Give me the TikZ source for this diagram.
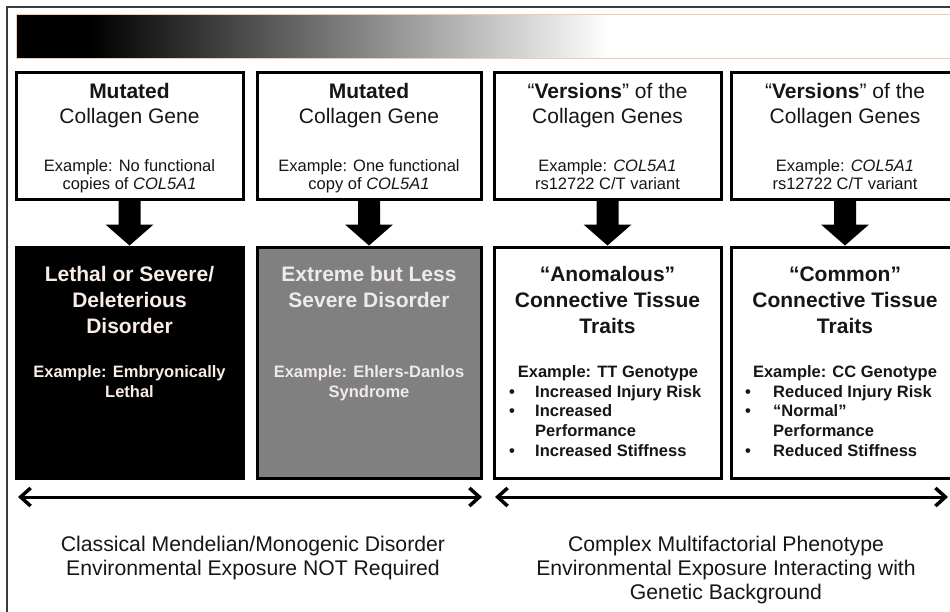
\documentclass[tikz,border=0pt]{standalone}
\usepackage{fontspec}
\setmainfont{Liberation Sans}
\usetikzlibrary{arrows.meta,calc}
\definecolor{framegray}{RGB}{60,60,60}
\definecolor{barline}{RGB}{240,200,180}
\definecolor{boxgray}{RGB}{128,128,128}
\definecolor{lighttext}{RGB}{250,236,230}
\definecolor{graytext}{RGB}{240,234,232}
\definecolor{inktext}{RGB}{22,22,22}
\newcommand\fTitle{\fontsize{21}{26}\selectfont}
\newcommand\fEx{\fontsize{16.5}{19}\selectfont}
\newcommand\fBot{\fontsize{21.2}{24}\selectfont}
\begin{document}
\begin{tikzpicture}[x=1pt,y=-1pt,
  topbox/.style={draw=black, line width=3pt, fill=white, minimum height=127pt, inner sep=0pt},
  botbox/.style={draw=black, line width=3pt, minimum height=231pt, inner sep=0pt},
  txt/.style={inner sep=0pt, anchor=base, text=inktext},
  ttl/.style={txt, font=\bfseries\fTitle},
  reg/.style={txt, font=\fTitle},
  ex/.style={txt, font=\fEx},
  bex/.style={txt, font=\bfseries\fEx},
  bul/.style={inner sep=0pt, anchor=base west, text=inktext, font=\bfseries\fEx},
  btxt/.style={inner sep=0pt, anchor=base, text=inktext, font=\fBot},
  blockarrow/.style={fill=black},
  dbl/.style={line width=3pt, {Straight Barb[length=10pt,width=18pt,line width=3.5pt]}-{Straight Barb[length=10pt,width=18pt,line width=3.5pt]}}
]
\useasboundingbox (0,0) rectangle (950,611);
\clip (0,0) rectangle (950,611);
\fill[white] (0,0) rectangle (950,611);
% frame
\draw[framegray, line width=1.6pt] (7,620) -- (7,7) -- (960,7);
% gradient bar
\fill[black] (16,14) rectangle (90,58);
\shade[left color=black, right color=white] (90,14) rectangle (610,58);
\fill[white] (610,14) rectangle (960,58);
\draw[barline, line width=0.8pt] (16,14) rectangle (960,58);

% top boxes
\node[topbox, minimum width=227pt] (t1) at (129.5,135.5) {};
\node[topbox, minimum width=224pt] (t2) at (369,135.5) {};
\node[topbox, minimum width=227pt] (t3) at (607.5,135.5) {};
\node[topbox, minimum width=228pt] (t4) at (845,135.5) {};
% bottom boxes
\node[botbox, fill=black, minimum width=227pt] (b1) at (129.5,362.5) {};
\node[botbox, fill=boxgray, minimum width=224pt] (b2) at (369,362.5) {};
\node[botbox, fill=white, minimum width=227pt] (b3) at (607.5,362.5) {};
\node[botbox, fill=white, minimum width=228pt] (b4) at (845,362.5) {};

% block arrows
\foreach \a/\b in {t1/b1,t2/b2,t3/b3,t4/b4}{
  \fill[blockarrow] ($(\a.south)+(-11,-2)$) -- ($(\b.north)+(-11,-21)$) -- ($(\b.north)+(-24,-21)$)
    -- (\b.north) -- ($(\b.north)+(24,-21)$) -- ($(\b.north)+(11,-21)$) -- ($(\a.south)+(11,-2)$) -- cycle;
}

% top box texts
\node[ttl] (t1a) at (129.5,98) {Mutated};
\node[reg] (t1b) at (129.5,123.5) {Collagen Gene};
\node[ex] (t1c) at (129.5,171) {Example: No functional};
\node[ex] (t1d) at (129.5,189) {copies of \textit{COL5A1}};

\node[ttl] (t2a) at (369,98) {Mutated};
\node[reg] (t2b) at (369,123.5) {Collagen Gene};
\node[ex] (t2c) at (369,171) {Example: One functional};
\node[ex] (t2d) at (369,189) {copy of \textit{COL5A1}};

\node[reg] (t3a) at (607.5,98) {“\textbf{Versions}” of the};
\node[reg] (t3b) at (607.5,123.5) {Collagen Genes};
\node[ex] (t3c) at (607.5,171) {Example: \textit{COL5A1}};
\node[ex] (t3d) at (607.5,189) {rs12722 C/T variant};

\node[reg] (t4a) at (845,98) {“\textbf{Versions}” of the};
\node[reg] (t4b) at (845,123.5) {Collagen Genes};
\node[ex] (t4c) at (845,171) {Example: \textit{COL5A1}};
\node[ex] (t4d) at (845,189) {rs12722 C/T variant};

% bottom box 1
\node[ttl, text=lighttext] (b1a) at (129.5,281) {Lethal or Severe/};
\node[ttl, text=lighttext] (b1b) at (129.5,307) {Deleterious};
\node[ttl, text=lighttext] (b1c) at (129.5,333) {Disorder};
\node[bex, text=lighttext] (b1d) at (129.5,377) {Example: Embryonically};
\node[bex, text=lighttext] (b1e) at (129.5,397) {Lethal};

% bottom box 2
\node[ttl, text=graytext] (b2a) at (369,281) {Extreme but Less};
\node[ttl, text=graytext] (b2b) at (369,307) {Severe Disorder};
\node[bex, text=graytext] (b2d) at (369,377) {Example: Ehlers-Danlos};
\node[bex, text=graytext] (b2e) at (369,397) {Syndrome};

% bottom box 3
\node[ttl] (b3a) at (607.5,281) {“Anomalous”};
\node[ttl] (b3b) at (607.5,307) {Connective Tissue};
\node[ttl] (b3c) at (607.5,333) {Traits};
\node[bex] (b3d) at (608,377) {Example: TT Genotype};
\node[bex] (b3p1) at (512,397) {•};
\node[bul] (b3l1) at (535,397) {Increased Injury Risk};
\node[bex] (b3p2) at (512,416) {•};
\node[bul] (b3l2) at (535,416) {Increased};
\node[bul] (b3l3) at (535,436) {Performance};
\node[bex] (b3p3) at (512,456) {•};
\node[bul] (b3l4) at (535,456) {Increased Stiffness};

% bottom box 4
\node[ttl] (b4a) at (845,281) {“Common”};
\node[ttl] (b4b) at (845,307) {Connective Tissue};
\node[ttl] (b4c) at (845,333) {Traits};
\node[bex] (b4d) at (845,377) {Example: CC Genotype};
\node[bex] (b4p1) at (748,397) {•};
\node[bul] (b4l1) at (773,397) {Reduced Injury Risk};
\node[bex] (b4p2) at (748,416) {•};
\node[bul] (b4l2) at (773,416) {“Normal”};
\node[bul] (b4l3) at (773,436) {Performance};
\node[bex] (b4p3) at (748,456) {•};
\node[bul] (b4l4) at (773,456) {Reduced Stiffness};

% double arrows
\coordinate (l1) at (18,497);
\coordinate (l2) at (482,497);
\coordinate (r1) at (495,497);
\coordinate (r2) at (948,497);
\draw[dbl] (l1) -- (l2);
\draw[dbl] (r1) -- (r2);

% bottom texts
\node[btxt] (c1) at (253,551) {Classical Mendelian/Monogenic Disorder};
\node[btxt] (c2) at (253,575) {Environmental Exposure NOT Required};
\node[btxt] (d1) at (726,551) {Complex Multifactorial Phenotype};
\node[btxt] (d2) at (726,575) {Environmental Exposure Interacting with};
\node[btxt] (d3) at (726,599) {Genetic Background};
\end{tikzpicture}
\end{document}
